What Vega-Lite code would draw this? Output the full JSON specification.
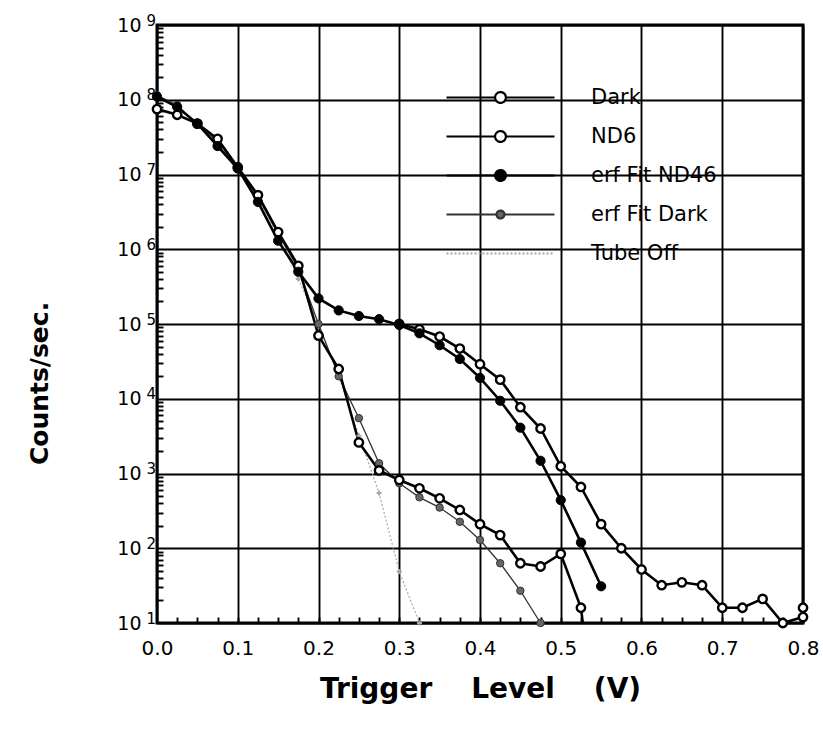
{
  "$schema": "https://vega.github.io/schema/vega-lite/v6.json",
  "width": 646,
  "height": 598,
  "autosize": "none",
  "padding": {"left": 157, "top": 25, "right": 20, "bottom": 115},
  "background": "white",
  "config": {
    "view": {"stroke": "black", "strokeWidth": 3},
    "font": "DejaVu Sans",
    "axis": {"gridColor": "black", "gridOpacity": 1, "gridWidth": 1.9, "domain": false, "labelColor": "black", "titleColor": "black", "tickColor": "black", "labelFont": "DejaVu Sans", "titleFont": "DejaVu Sans"}
  },
  "datasets": {
    "pts": [
      {"s": "Dark", "x": 0, "y": 75000000}, {"s": "Dark", "x": 0.025, "y": 63000000}, {"s": "Dark", "x": 0.05, "y": 48000000}, {"s": "Dark", "x": 0.075, "y": 30000000}, {"s": "Dark", "x": 0.1, "y": 12500000}, {"s": "Dark", "x": 0.125, "y": 5300000}, {"s": "Dark", "x": 0.15, "y": 1700000}, {"s": "Dark", "x": 0.175, "y": 600000}, {"s": "Dark", "x": 0.2, "y": 70000}, {"s": "Dark", "x": 0.225, "y": 25000}, {"s": "Dark", "x": 0.25, "y": 2600}, {"s": "Dark", "x": 0.275, "y": 1100}, {"s": "Dark", "x": 0.3, "y": 820}, {"s": "Dark", "x": 0.325, "y": 634}, {"s": "Dark", "x": 0.35, "y": 466}, {"s": "Dark", "x": 0.375, "y": 325}, {"s": "Dark", "x": 0.4, "y": 210}, {"s": "Dark", "x": 0.425, "y": 150}, {"s": "Dark", "x": 0.45, "y": 63}, {"s": "Dark", "x": 0.475, "y": 57}, {"s": "Dark", "x": 0.5, "y": 84}, {"s": "Dark", "x": 0.525, "y": 16}, {"s": "Dark", "x": 0.55, "y": 0.1},
      {"s": "ND6", "x": 0.3, "y": 100000}, {"s": "ND6", "x": 0.325, "y": 85000}, {"s": "ND6", "x": 0.35, "y": 68000}, {"s": "ND6", "x": 0.375, "y": 47000}, {"s": "ND6", "x": 0.4, "y": 29000}, {"s": "ND6", "x": 0.425, "y": 18000}, {"s": "ND6", "x": 0.45, "y": 7700}, {"s": "ND6", "x": 0.475, "y": 4000}, {"s": "ND6", "x": 0.5, "y": 1250}, {"s": "ND6", "x": 0.525, "y": 660}, {"s": "ND6", "x": 0.55, "y": 210}, {"s": "ND6", "x": 0.575, "y": 100}, {"s": "ND6", "x": 0.6, "y": 52}, {"s": "ND6", "x": 0.625, "y": 32}, {"s": "ND6", "x": 0.65, "y": 35}, {"s": "ND6", "x": 0.675, "y": 32}, {"s": "ND6", "x": 0.7, "y": 16}, {"s": "ND6", "x": 0.725, "y": 16}, {"s": "ND6", "x": 0.75, "y": 21}, {"s": "ND6", "x": 0.775, "y": 10}, {"s": "ND6", "x": 0.8, "y": 12}, {"s": "ND6", "x": 0.8, "y": 16},
      {"s": "erf Fit ND46", "x": 0, "y": 110000000}, {"s": "erf Fit ND46", "x": 0.025, "y": 80000000}, {"s": "erf Fit ND46", "x": 0.05, "y": 48000000}, {"s": "erf Fit ND46", "x": 0.075, "y": 24000000}, {"s": "erf Fit ND46", "x": 0.1, "y": 12000000}, {"s": "erf Fit ND46", "x": 0.125, "y": 4300000}, {"s": "erf Fit ND46", "x": 0.15, "y": 1300000}, {"s": "erf Fit ND46", "x": 0.175, "y": 500000}, {"s": "erf Fit ND46", "x": 0.2, "y": 220000}, {"s": "erf Fit ND46", "x": 0.225, "y": 152000}, {"s": "erf Fit ND46", "x": 0.25, "y": 128000}, {"s": "erf Fit ND46", "x": 0.275, "y": 116000}, {"s": "erf Fit ND46", "x": 0.3, "y": 97000}, {"s": "erf Fit ND46", "x": 0.325, "y": 75000}, {"s": "erf Fit ND46", "x": 0.35, "y": 52000}, {"s": "erf Fit ND46", "x": 0.375, "y": 34000}, {"s": "erf Fit ND46", "x": 0.4, "y": 19000}, {"s": "erf Fit ND46", "x": 0.425, "y": 9400}, {"s": "erf Fit ND46", "x": 0.45, "y": 4100}, {"s": "erf Fit ND46", "x": 0.475, "y": 1480}, {"s": "erf Fit ND46", "x": 0.5, "y": 440}, {"s": "erf Fit ND46", "x": 0.525, "y": 119}, {"s": "erf Fit ND46", "x": 0.55, "y": 31},
      {"s": "erf Fit Dark", "x": 0, "y": 115000000}, {"s": "erf Fit Dark", "x": 0.025, "y": 85000000}, {"s": "erf Fit Dark", "x": 0.05, "y": 46000000}, {"s": "erf Fit Dark", "x": 0.075, "y": 28000000}, {"s": "erf Fit Dark", "x": 0.1, "y": 12000000}, {"s": "erf Fit Dark", "x": 0.125, "y": 5000000}, {"s": "erf Fit Dark", "x": 0.15, "y": 1600000}, {"s": "erf Fit Dark", "x": 0.175, "y": 550000}, {"s": "erf Fit Dark", "x": 0.2, "y": 100000}, {"s": "erf Fit Dark", "x": 0.225, "y": 20000}, {"s": "erf Fit Dark", "x": 0.25, "y": 5500}, {"s": "erf Fit Dark", "x": 0.275, "y": 1370}, {"s": "erf Fit Dark", "x": 0.3, "y": 740}, {"s": "erf Fit Dark", "x": 0.325, "y": 480}, {"s": "erf Fit Dark", "x": 0.35, "y": 350}, {"s": "erf Fit Dark", "x": 0.375, "y": 226}, {"s": "erf Fit Dark", "x": 0.4, "y": 129}, {"s": "erf Fit Dark", "x": 0.425, "y": 63}, {"s": "erf Fit Dark", "x": 0.45, "y": 27}, {"s": "erf Fit Dark", "x": 0.475, "y": 10},
      {"s": "Tube Off", "x": 0, "y": 110000000}, {"s": "Tube Off", "x": 0.025, "y": 80000000}, {"s": "Tube Off", "x": 0.05, "y": 48000000}, {"s": "Tube Off", "x": 0.075, "y": 26000000}, {"s": "Tube Off", "x": 0.1, "y": 12500000}, {"s": "Tube Off", "x": 0.125, "y": 5000000}, {"s": "Tube Off", "x": 0.15, "y": 1500000}, {"s": "Tube Off", "x": 0.175, "y": 400000}, {"s": "Tube Off", "x": 0.2, "y": 100000}, {"s": "Tube Off", "x": 0.225, "y": 20000}, {"s": "Tube Off", "x": 0.25, "y": 3200}, {"s": "Tube Off", "x": 0.275, "y": 550}, {"s": "Tube Off", "x": 0.3, "y": 49}, {"s": "Tube Off", "x": 0.325, "y": 10}
    ]
  },
  "data": {"name": "pts"},
  "resolve": {"axis": {"x": "independent", "y": "independent"}},
  "layer": [
    {
      "transform": [{"filter": "datum.s === 'Tube Off'"}],
      "mark": {"type": "line", "clip": true, "color": "#a8a8a8", "strokeWidth": 1.2, "strokeDash": [2, 2]},
      "encoding": {
        "x": {"field": "x", "type": "quantitative", "scale": {"domain": [0, 0.8], "nice": false, "zero": false},
          "axis": {"orient": "bottom", "values": [0, 0.1, 0.2, 0.3, 0.4, 0.5, 0.6, 0.7, 0.8], "format": ".1f", "grid": true, "ticks": false, "domain": false, "labelFontSize": 20, "labelPadding": 15, "labelFlush": false, "title": "Trigger\u00a0\u00a0\u00a0\u00a0Level\u00a0\u00a0\u00a0\u00a0(V)", "titleFontSize": 28, "titleFontWeight": "bold", "titlePadding": 17}},
        "y": {"field": "y", "type": "quantitative", "scale": {"type": "log", "domain": [10, 1000000000], "nice": false},
          "axis": {"orient": "left", "values": [10, 100, 1000, 10000, 100000, 1000000, 10000000, 100000000, 1000000000], "labelExpr": "'10'", "grid": true, "ticks": false, "domain": false, "labelFontSize": 19, "labelPadding": 16, "labelBaseline": "middle", "labelFlush": false, "labelOverlap": false, "title": "Counts/sec.", "titleFontSize": 25, "titleFontWeight": "bold", "titlePadding": 64, "titleY": 358}},
        "detail": {"field": "s"}
      }
    },
    {
      "transform": [{"filter": "datum.s === 'erf Fit Dark'"}],
      "mark": {"type": "line", "clip": true, "color": "#333333", "strokeWidth": 1.3},
      "encoding": {
        "x": {"field": "x", "type": "quantitative",
          "axis": {"orient": "bottom", "values": [0.025, 0.05, 0.075, 0.1, 0.125, 0.15, 0.175, 0.2, 0.225, 0.25, 0.275, 0.3, 0.325, 0.35, 0.375, 0.4, 0.425, 0.45, 0.475, 0.5, 0.525, 0.55, 0.575, 0.6, 0.625, 0.65, 0.675, 0.7, 0.725, 0.75, 0.775], "grid": false, "labels": false, "ticks": true, "tickSize": -6, "tickWidth": 1.9, "domain": false, "title": null}},
        "y": {"field": "y", "type": "quantitative",
          "axis": {"orient": "left", "values": [20, 30, 40, 50, 60, 70, 80, 90, 200, 300, 400, 500, 600, 700, 800, 900, 2000, 3000, 4000, 5000, 6000, 7000, 8000, 9000, 20000, 30000, 40000, 50000, 60000, 70000, 80000, 90000, 200000, 300000, 400000, 500000, 600000, 700000, 800000, 900000, 2000000, 3000000, 4000000, 5000000, 6000000, 7000000, 8000000, 9000000, 20000000, 30000000, 40000000, 50000000, 60000000, 70000000, 80000000, 90000000, 200000000, 300000000, 400000000, 500000000, 600000000, 700000000, 800000000, 900000000], "grid": false, "labels": false, "ticks": true, "tickSize": -6, "tickWidth": 1.9, "domain": false, "title": null}},
        "detail": {"field": "s"}
      }
    },
    {
      "transform": [{"filter": "datum.s === 'Dark' || datum.s === 'ND6' || datum.s === 'erf Fit ND46'"}],
      "mark": {"type": "line", "clip": true, "strokeWidth": 2.6, "color": "black"},
      "encoding": {
        "x": {"field": "x", "type": "quantitative", "axis": null},
        "y": {"field": "y", "type": "quantitative",
          "axis": {"orient": "left", "values": [10, 100, 1000, 10000, 100000, 1000000, 10000000, 100000000, 1000000000], "labelExpr": "format(round(log(datum.value)/LN10), 'd')", "labelAlign": "left", "labelPadding": 11, "labelDy": -5, "labelFontSize": 15, "labelBaseline": "alphabetic", "labelFlush": false, "labelOverlap": false, "grid": false, "ticks": false, "domain": false, "title": null}},
        "detail": {"field": "s"}
      }
    },
    {
      "transform": [{"filter": "datum.s === 'Tube Off'"}],
      "mark": {"type": "point", "shape": "cross", "filled": true, "color": "#a8a8a8", "size": 25, "opacity": 1},
      "encoding": {
        "x": {"field": "x", "type": "quantitative", "axis": null},
        "y": {"field": "y", "type": "quantitative", "axis": null}
      }
    },
    {
      "transform": [{"filter": "datum.s === 'erf Fit Dark' && datum.y >= 10"}],
      "mark": {"type": "point", "shape": "circle", "filled": true, "fill": "#666666", "stroke": "#333333", "strokeWidth": 1, "size": 55, "opacity": 1},
      "encoding": {
        "x": {"field": "x", "type": "quantitative", "axis": null},
        "y": {"field": "y", "type": "quantitative", "axis": null}
      }
    },
    {
      "transform": [{"filter": "(datum.s === 'Dark' || datum.s === 'ND6') && datum.y >= 10"}],
      "mark": {"type": "point", "shape": "circle", "filled": true, "fill": "white", "stroke": "black", "strokeWidth": 2.4, "size": 70, "opacity": 1},
      "encoding": {
        "x": {"field": "x", "type": "quantitative", "axis": null},
        "y": {"field": "y", "type": "quantitative", "axis": null}
      }
    },
    {
      "transform": [{"filter": "datum.s === 'erf Fit ND46' && datum.y >= 10"}],
      "mark": {"type": "point", "shape": "circle", "filled": true, "fill": "black", "stroke": "black", "strokeWidth": 1, "size": 85, "opacity": 1},
      "encoding": {
        "x": {"field": "x", "type": "quantitative", "axis": null},
        "y": {"field": "y", "type": "quantitative", "axis": null}
      }
    },
    {
      "transform": [{"filter": "datum.y < 0"}],
      "mark": {"type": "point", "filled": true, "opacity": 1},
      "encoding": {
        "x": {"field": "x", "type": "quantitative", "axis": null},
        "y": {"field": "y", "type": "quantitative", "axis": null},
        "shape": {"field": "s", "type": "nominal",
          "scale": {"domain": ["Dark", "ND6", "erf Fit ND46", "erf Fit Dark", "Tube Off"], "range": ["M-3,0H-0.3M0.3,0H3M0.3,0A0.3,0.3,0,1,1,-0.3,0A0.3,0.3,0,1,1,0.3,0Z", "M-3,0H-0.3M0.3,0H3M0.3,0A0.3,0.3,0,1,1,-0.3,0A0.3,0.3,0,1,1,0.3,0Z", "M-3,0H-0.3M0.3,0H3M0.3,0A0.3,0.3,0,1,1,-0.3,0A0.3,0.3,0,1,1,0.3,0Z", "M-3,0H-0.22M0.22,0H3M0.22,0A0.22,0.22,0,1,1,-0.22,0A0.22,0.22,0,1,1,0.22,0Z", "M-3,0H3"]},
          "legend": {"orient": "none", "legendX": 284, "legendY": 53, "title": null, "padding": 0, "symbolSize": 1296, "symbolStrokeWidth": 2.2, "symbolOffset": 40, "labelOffset": 71, "labelFont": "DejaVu Sans", "labelFontSize": 21, "labelColor": "black", "labelLimit": 300, "rowPadding": 9}},
        "stroke": {"field": "s", "type": "nominal",
          "scale": {"domain": ["Dark", "ND6", "erf Fit ND46", "erf Fit Dark", "Tube Off"], "range": ["black", "black", "black", "#333333", "#a8a8a8"]},
          "legend": {"orient": "none", "legendX": 284, "legendY": 53, "title": null, "padding": 0, "symbolSize": 1296, "symbolStrokeWidth": 2.2, "symbolOffset": 40, "labelOffset": 71, "labelFont": "DejaVu Sans", "labelFontSize": 21, "labelColor": "black", "labelLimit": 300, "rowPadding": 9}},
        "fill": {"field": "s", "type": "nominal",
          "scale": {"domain": ["Dark", "ND6", "erf Fit ND46", "erf Fit Dark", "Tube Off"], "range": ["white", "white", "black", "#666666", "transparent"]},
          "legend": {"orient": "none", "legendX": 284, "legendY": 53, "title": null, "padding": 0, "symbolSize": 1296, "symbolStrokeWidth": 2.2, "symbolOffset": 40, "labelOffset": 71, "labelFont": "DejaVu Sans", "labelFontSize": 21, "labelColor": "black", "labelLimit": 300, "rowPadding": 9}},
        "strokeDash": {"field": "s", "type": "nominal",
          "scale": {"domain": ["Dark", "ND6", "erf Fit ND46", "erf Fit Dark", "Tube Off"], "range": [[1, 0], [1, 0], [1, 0], [1, 0], [2, 2]]},
          "legend": {"orient": "none", "legendX": 284, "legendY": 53, "title": null, "padding": 0, "symbolSize": 1296, "symbolStrokeWidth": 2.2, "symbolOffset": 40, "labelOffset": 71, "labelFont": "DejaVu Sans", "labelFontSize": 21, "labelColor": "black", "labelLimit": 300, "rowPadding": 9}}
      }
    }
  ]
}
